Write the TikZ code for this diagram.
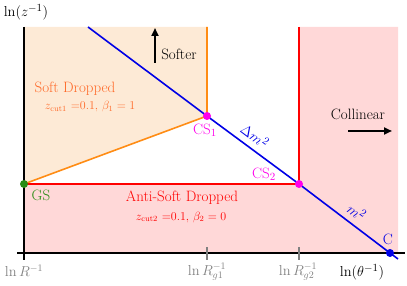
\documentclass[tikz,border=0pt]{standalone}
\usepackage{tikz}
\usetikzlibrary{arrows.meta,positioning}
\definecolor{peach}{RGB}{253,234,214}
\definecolor{rose}{RGB}{255,216,216}
\definecolor{sdorange}{RGB}{255,140,20}
\definecolor{sdtext}{RGB}{255,105,40}
\definecolor{csmag}{RGB}{255,0,235}
\definecolor{gsgreen}{RGB}{40,140,20}
\definecolor{mline}{RGB}{0,0,230}

\begin{document}
\begin{tikzpicture}[x=1pt,y=-1pt,line width=1.6pt,
  every node/.style={font=\fontsize{15}{17}\selectfont},
  small/.style={font=\fontsize{12}{14}\selectfont},
  tick/.style={gray,font=\fontsize{14}{16}\selectfont},
  dot/.style={circle,fill,inner sep=0pt,minimum size=8pt}]
\useasboundingbox (0,0) rectangle (407,286);
% key points
\coordinate (GS) at (24,184);
\coordinate (CS1) at (207,116);
\coordinate (CS2) at (299,184);
\coordinate (C) at (390,253);
\coordinate (otop) at (207,27);
\coordinate (rtop) at (299,27);
\coordinate (btop) at (88,27);
\coordinate (bend) at (398,259);
% regions
\fill[peach] (24,27) -- (otop) -- (CS1) -- (GS) -- cycle;
\fill[rose] (GS) -- (CS2) -- (rtop) -- (398,27) -- (398,253) -- (24,253) -- cycle;
% boundaries
\draw[sdorange] (GS) -- (CS1) -- (otop);
\draw[red] (GS) -- (CS2) -- (rtop);
\draw[mline] (btop) -- (CS1) -- (CS2) -- (C) -- (bend);
% axes
\draw[line width=2pt] (24,27) -- (24,260);
\draw[line width=2pt] (17,253) -- (405,253);
\draw[gray] (207,247) -- (207,260);
\draw[gray] (299,247) -- (299,260);
\node (zlab) at (26,12) {$\ln(z^{-1})$};
\node (tlab) at (362,272) {$\ln(\theta^{-1})$};
\node[tick] (r0) at (24,271) {$\ln R^{-1}$};
\node[tick] (r1) at (207,272) {$\ln R_{g1}^{-1}$};
\node[tick] (r2) at (298,272) {$\ln R_{g2}^{-1}$};
% points
\node[dot,gsgreen] (gs) at (GS) {};
\node[dot,csmag] (cs1) at (CS1) {};
\node[dot,csmag] (cs2) at (CS2) {};
\node[dot,mline] (c) at (C) {};
\node[gsgreen] at (41,195) {GS};
\node[csmag] at (205,130) {CS$_1$};
\node[csmag] at (264,174) {CS$_2$};
\node[mline] at (388,239) {C};
\node[mline,rotate=-37] at (255,136) {$\Delta m^2$};
\node[mline,rotate=-37] at (357,212) {$m^2$};
% regions
\node[sdtext] at (75,89) {Soft Dropped};
\node[sdtext,small] at (90,107) {$z_{\rm cut1}$ =0.1, $\beta_1=1$};
\node[red] at (182,198) {Anti-Soft Dropped};
\node[red,small] at (181,217) {$z_{\rm cut2}$ =0.1, $\beta_2=0$};
% directions
\coordinate (sa) at (155,63);
\coordinate (sb) at (155,28);
\draw[-{Triangle[length=8pt,width=7pt]},line width=2pt] (sa) -- (sb);
\node at (179,54) {Softer};
\node at (358,114) {Collinear};
\coordinate (ca) at (348,131);
\coordinate (cb) at (392,131);
\draw[-{Triangle[length=8pt,width=7pt]},line width=2pt] (ca) -- (cb);
\end{tikzpicture}
\end{document}
